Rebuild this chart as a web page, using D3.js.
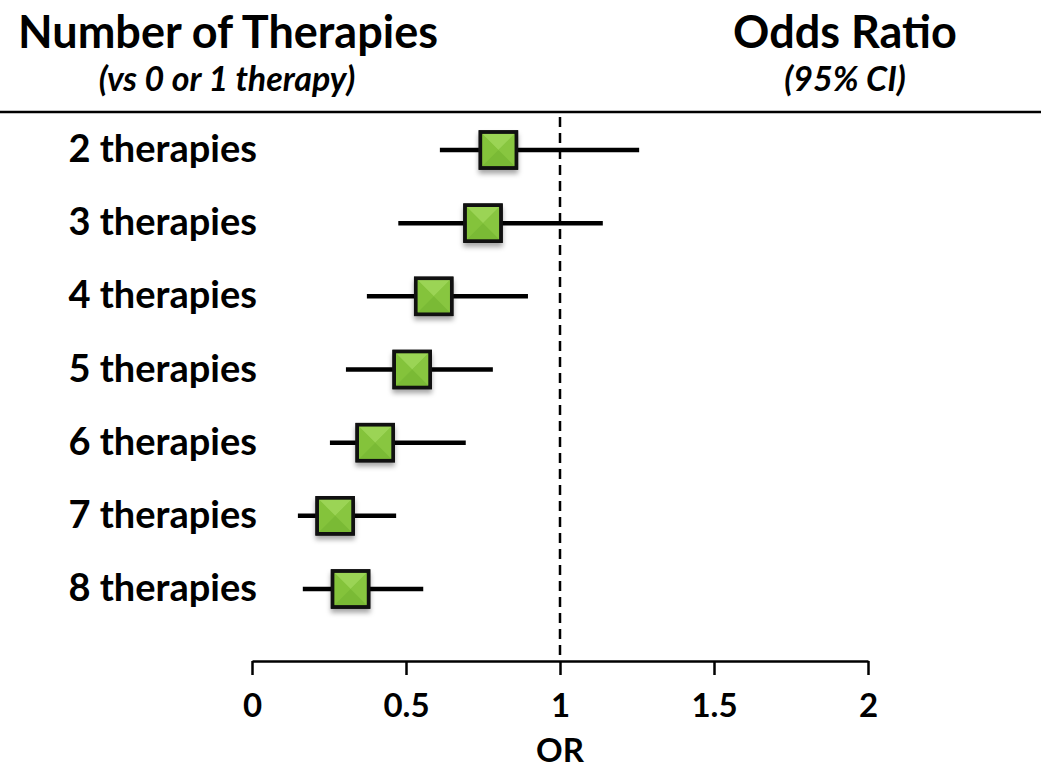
<!DOCTYPE html>
<html>
<head>
<meta charset="utf-8">
<script src="https://cdn.jsdelivr.net/npm/d3@7"></script>
<style>
  html, body { margin: 0; padding: 0; background: #fff; }
  svg { display: block; font-family: Lato, "Open Sans", sans-serif; }
</style>
</head>
<body>
<svg id="chart" width="1041" height="770"></svg>
<script>
const categories = ["2 therapies", "3 therapies", "4 therapies", "5 therapies", "6 therapies", "7 therapies", "8 therapies"];
const oddsRatio = [0.80, 0.75, 0.59, 0.52, 0.40, 0.27, 0.32];
const ciLow     = [0.61, 0.475, 0.373, 0.305, 0.253, 0.149, 0.165];
const ciHigh    = [1.257, 1.139, 0.896, 0.782, 0.694, 0.468, 0.556];
const xTicks = [0, 0.5, 1, 1.5, 2];
const xTickLabels = ["0", "0.5", "1", "1.5", "2"];
const leftTitle = "Number of Therapies";
const leftSubtitle = "(vs 0 or 1 therapy)";
const rightTitle = "Odds Ratio";
const rightSubtitle = "(95% CI)";
const axisTitle = "OR";

const data = categories.map((c, i) => ({cat: c, or: oddsRatio[i], lo: ciLow[i], hi: ciHigh[i]}));

const svg = d3.select("#chart");
const x = d3.scaleLinear().domain([0, 2]).range([252, 868]);
const y = d3.scalePoint().domain(categories).range([150, 589]);
const axisY = 661;

// defs: shadow
const defs = svg.append("defs");
const f = defs.append("filter").attr("id", "shadow").attr("x", "-30%").attr("y", "-30%").attr("width", "160%").attr("height", "170%");
f.append("feDropShadow").attr("dx", 0).attr("dy", 4).attr("stdDeviation", 2.5).attr("flood-color", "#000").attr("flood-opacity", 0.35);

// headers
svg.append("text").attr("x", 228).attr("y", 48).attr("text-anchor", "middle")
  .attr("font-size", 45).attr("font-weight", 700).text(leftTitle);
svg.append("text").attr("x", 227).attr("y", 91).attr("text-anchor", "middle")
  .attr("font-size", 34).attr("font-weight", 700).attr("font-style", "italic").text(leftSubtitle);
svg.append("text").attr("x", 845).attr("y", 48).attr("text-anchor", "middle")
  .attr("font-size", 45).attr("font-weight", 700).text(rightTitle);
svg.append("text").attr("x", 845).attr("y", 91).attr("text-anchor", "middle")
  .attr("font-size", 34).attr("font-weight", 700).attr("font-style", "italic").text(rightSubtitle);

svg.append("line").attr("x1", 0).attr("x2", 1041).attr("y1", 112).attr("y2", 112)
  .attr("stroke", "#000").attr("stroke-width", 2.5);

// reference line at OR=1
svg.append("line").attr("x1", x(1)).attr("x2", x(1)).attr("y1", 117).attr("y2", axisY)
  .attr("stroke", "#000").attr("stroke-width", 2.5).attr("stroke-dasharray", "10,6");

// axis
const axis = d3.axisBottom(x).tickValues(xTicks).tickFormat((d, i) => xTickLabels[i]).tickSize(14).tickSizeOuter(0);
const gAxis = svg.append("g").attr("transform", `translate(0,${axisY})`).call(axis);
gAxis.select(".domain").attr("stroke", "#000").attr("stroke-width", 2.5);
gAxis.selectAll(".tick line").attr("stroke", "#000").attr("stroke-width", 2.5);
gAxis.selectAll(".tick text").attr("font-size", 33).attr("font-weight", 700).attr("fill", "#000")
  .attr("font-family", "Lato, sans-serif").attr("y", 56).attr("dy", 0);

svg.append("text").attr("x", x(1)).attr("y", 762).attr("text-anchor", "middle")
  .attr("font-size", 33).attr("font-weight", 700).text(axisTitle);

// row labels
svg.selectAll(".rowlabel").data(data).enter().append("text")
  .attr("class", "rowlabel")
  .attr("x", 257).attr("y", d => y(d.cat) + 12)
  .attr("text-anchor", "end").attr("font-size", 38).attr("font-weight", 700)
  .text(d => d.cat);

// CI lines
svg.selectAll(".ci").data(data).enter().append("line")
  .attr("class", "ci")
  .attr("x1", d => x(d.lo)).attr("x2", d => x(d.hi))
  .attr("y1", d => y(d.cat)).attr("y2", d => y(d.cat))
  .attr("stroke", "#000").attr("stroke-width", 4.5);

// markers
const s = 18;
const mk = svg.selectAll(".mk").data(data).enter().append("g")
  .attr("class", "mk")
  .attr("transform", d => `translate(${x(d.or)},${y(d.cat)})`);
const gInner = mk.append("g").attr("filter", "url(#shadow)");
gInner.append("rect").attr("x", -s).attr("y", -s).attr("width", 2 * s).attr("height", 2 * s)
  .attr("fill", "#86c53f").attr("stroke", "#111").attr("stroke-width", 3.5);
const inn = s - 1.75;
const tri = [
  {pts: [[-inn, -inn], [inn, -inn], [0, 0]], c: "#9bd455"},
  {pts: [[-inn, -inn], [-inn, inn], [0, 0]], c: "#84c33b"},
  {pts: [[inn, -inn], [inn, inn], [0, 0]], c: "#88c640"},
  {pts: [[-inn, inn], [inn, inn], [0, 0]], c: "#7aba35"}
];
tri.forEach(t => {
  mk.append("polygon").attr("points", t.pts.map(p => p.join(",")).join(" ")).attr("fill", t.c);
});
mk.append("rect").attr("x", -s).attr("y", -s).attr("width", 2 * s).attr("height", 2 * s)
  .attr("fill", "none").attr("stroke", "#111").attr("stroke-width", 3.5);
</script>
</body>
</html>
